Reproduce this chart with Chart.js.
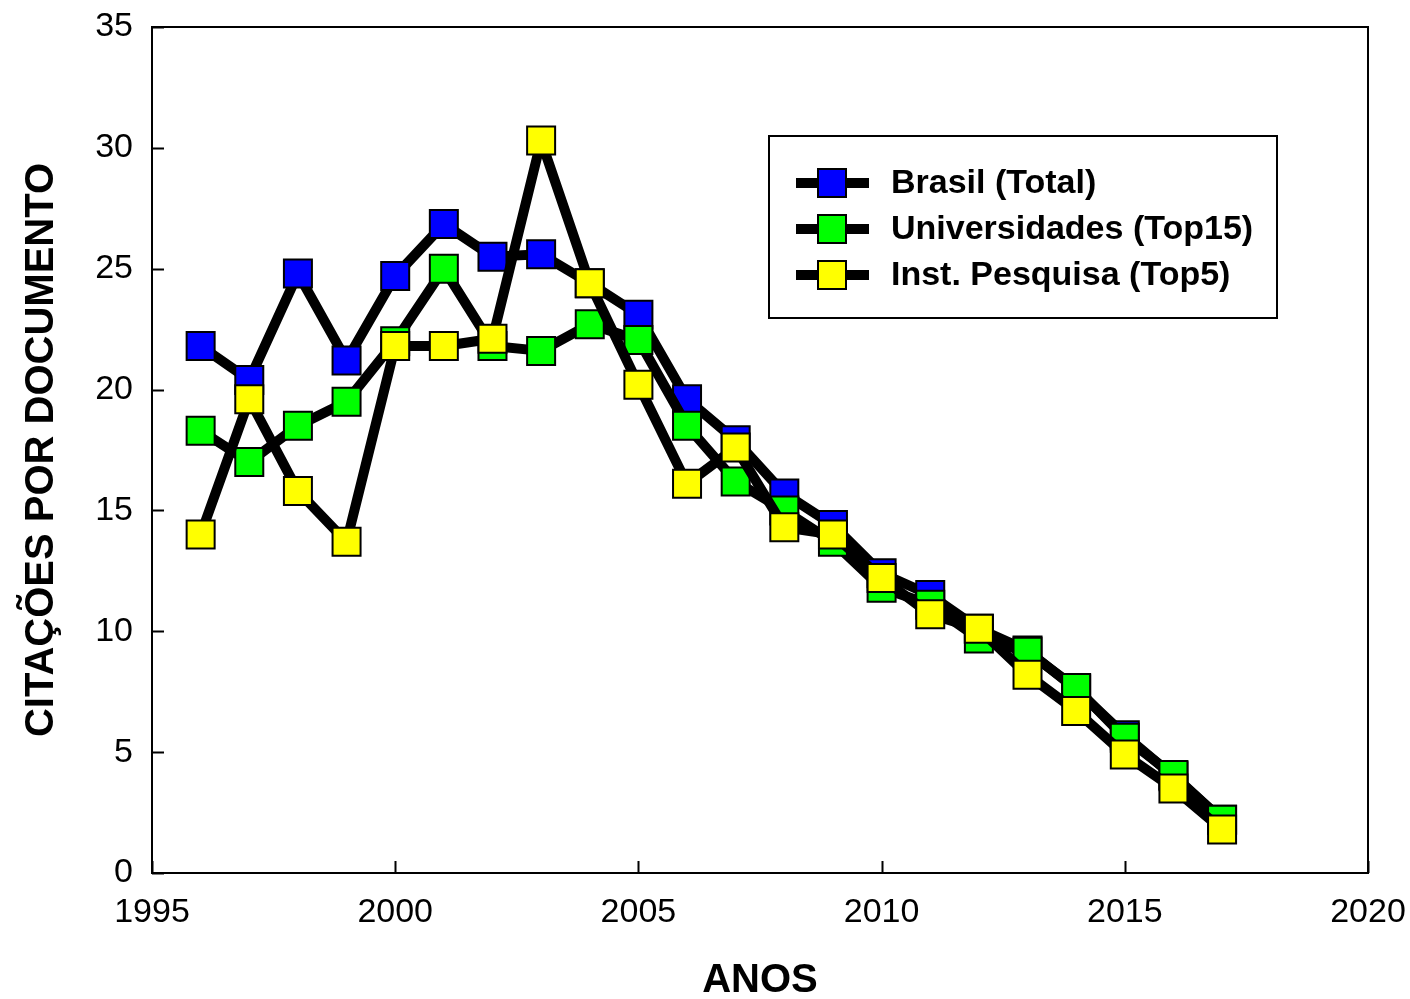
<!DOCTYPE html>
<html>
<head>
<meta charset="utf-8">
<script src="https://cdn.jsdelivr.net/npm/chart.js@4.4.1/dist/chart.umd.min.js"></script>
<style>
  html, body { margin: 0; padding: 0; background: #fff; }
  #wrap { width: 1410px; height: 999px; position: relative; }
</style>
</head>
<body>
<div id="wrap"><canvas id="chart"></canvas></div>
<script>
// Data
const years = [1996, 1997, 1998, 1999, 2000, 2001, 2002, 2003, 2004, 2005, 2006, 2007, 2008, 2009, 2010, 2011, 2012, 2013, 2014, 2015, 2016, 2017];
const brasilTotal = [21.8, 20.4, 24.8, 21.2, 24.7, 26.85, 25.5, 25.6, 24.4, 23.1, 19.6, 17.9, 15.7, 14.4, 12.4, 11.5, 10.1, 9.2, 7.6, 5.7, 4.0, 2.2];
const universidades = [18.3, 17.0, 18.5, 19.5, 22.0, 25.0, 21.8, 21.6, 22.7, 22.05, 18.5, 16.2, 15.0, 13.7, 11.8, 11.1, 9.7, 9.15, 7.65, 5.6, 4.05, 2.2];
const instPesquisa = [14.0, 19.6, 15.8, 13.7, 21.8, 21.8, 22.1, 30.3, 24.4, 20.2, 16.1, 17.6, 14.3, 14.0, 12.2, 10.7, 10.1, 8.2, 6.7, 4.9, 3.5, 1.8];
const seriesLabels = ["Brasil (Total)", "Universidades (Top15)", "Inst. Pesquisa (Top5)"];
const seriesColors = ["#0000ff", "#00ff00", "#ffff00"];
const xTicks = [1995, 2000, 2005, 2010, 2015, 2020];
const yTicks = [0, 5, 10, 15, 20, 25, 30, 35];

const FONT = "'Liberation Sans', Arial, Helvetica, sans-serif";
const MARKER = 28;

function toPoints(vals) {
    return years.map((y, i) => ({ x: y, y: vals[i] }));
}

function makeSet(idx, vals, order) {
    return {
        label: seriesLabels[idx],
        data: toPoints(vals),
        order: order,
        borderColor: "#000",
        borderWidth: 10,
        borderJoinStyle: "round",
        pointStyle: "rect",
        pointRadius: MARKER / Math.SQRT2,
        pointBackgroundColor: seriesColors[idx],
        pointBorderColor: "#000",
        pointBorderWidth: 2,
        tension: 0
    };
}

// labels may overhang, the layout padding decides where the plot box sits
function noOverhang(s) {
    s.paddingTop = 0; s.paddingBottom = 0; s.paddingLeft = 0; s.paddingRight = 0;
}

// frame, inner ticks and boxed legend
const framePlugin = {
    id: "frame",
    afterDraw(chart) {
        let ctx = chart.ctx;
        let a = chart.chartArea;
        let xs = chart.scales.x, ys = chart.scales.y;
        ctx.save();
        ctx.strokeStyle = "#000";
        ctx.lineWidth = 2;
        ctx.strokeRect(a.left, a.top, a.right - a.left, a.bottom - a.top);
        ctx.beginPath();
        xTicks.forEach(t => {
            let px = Math.round(xs.getPixelForValue(t)) + 0.5;
            ctx.moveTo(px, a.bottom);
            ctx.lineTo(px, a.bottom - 12);
        });
        yTicks.forEach(t => {
            let py = Math.round(ys.getPixelForValue(t)) + 0.5;
            ctx.moveTo(a.left, py);
            ctx.lineTo(a.left + 12, py);
        });
        ctx.stroke();

        // legend
        let lx = 769, ly = 136, lw = 508, lh = 182;
        ctx.lineWidth = 2;
        ctx.strokeRect(lx, ly, lw, lh);
        seriesLabels.forEach((lab, i) => {
            let cy = 183 + i * 46;
            ctx.beginPath();
            ctx.lineWidth = 10;
            ctx.moveTo(796, cy);
            ctx.lineTo(869, cy);
            ctx.stroke();
            ctx.fillStyle = seriesColors[i];
            ctx.fillRect(832 - MARKER / 2, cy - MARKER / 2, MARKER, MARKER);
            ctx.lineWidth = 2;
            ctx.strokeRect(832 - MARKER / 2, cy - MARKER / 2, MARKER, MARKER);
            ctx.fillStyle = "#000";
            ctx.font = "bold 34px " + FONT;
            ctx.textBaseline = "middle";
            ctx.fillText(lab, 891, cy + 1);
        });
        ctx.restore();
    }
};

new Chart(document.getElementById("chart"), {
    type: "line",
    data: {
        datasets: [
            makeSet(0, brasilTotal, 3),
            makeSet(1, universidades, 2),
            makeSet(2, instPesquisa, 1)
        ]
    },
    options: {
        responsive: true,
        maintainAspectRatio: false,
        animation: false,
        layout: { padding: { top: 27, right: 42, left: 0, bottom: 0 } },
        plugins: { legend: { display: false }, tooltip: { enabled: false } },
        scales: {
            x: {
                type: "linear",
                min: 1995, max: 2020,
                afterBuildTicks: s => { s.ticks = xTicks.map(v => ({ value: v })); },
                afterFit: s => { s.height = 126; noOverhang(s); },
                grid: { display: false, drawTicks: false },
                border: { display: false },
                ticks: { color: "#000", padding: 19, font: { family: FONT, size: 34 }, callback: v => String(v) },
                title: { display: true, text: "ANOS", color: "#000", padding: { top: 0, bottom: 0 },
                         font: { family: FONT, size: 40, weight: "bold", lineHeight: 0.9 } }
            },
            y: {
                min: 0, max: 35,
                afterBuildTicks: s => { s.ticks = yTicks.map(v => ({ value: v })); },
                afterFit: s => { s.width = 152; noOverhang(s); },
                grid: { display: false, drawTicks: false },
                border: { display: false },
                ticks: { color: "#000", padding: 19, font: { family: FONT, size: 34 } },
                title: { display: true, text: "CITAÇÕES POR DOCUMENTO", color: "#000", padding: { top: 18, bottom: 0 },
                         font: { family: FONT, size: 40, weight: "bold", lineHeight: 1.2 } }
            }
        }
    },
    plugins: [framePlugin]
});
</script>
</body>
</html>
